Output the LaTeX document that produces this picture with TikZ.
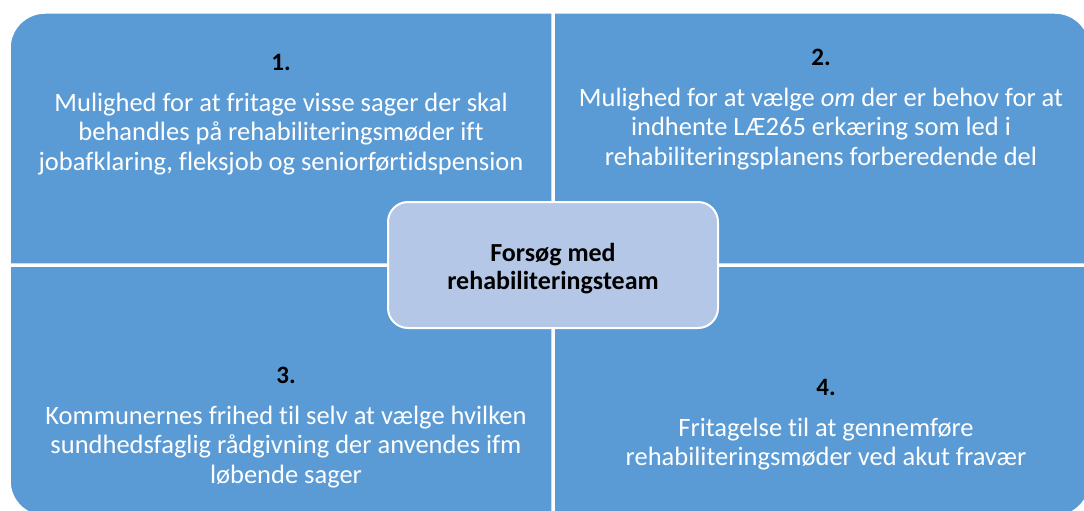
\documentclass[tikz,border=0pt]{standalone}
\usepackage{fontspec}
\setmainfont{Carlito}[Ligatures=NoCommon]
\usepackage{tikz}
\usetikzlibrary{positioning}
\definecolor{quadblue}{RGB}{91,155,213}
\definecolor{hubblue}{RGB}{180,199,231}

\begin{document}
\begin{tikzpicture}[x=1pt,y=1pt,node distance=22pt,
    quad/.style={fill=quadblue,draw=white,line width=1.5pt},
    num/.style={font=\fontsize{25}{29}\selectfont\bfseries,text=black,inner sep=0pt},
    txt/.style={font=\fontsize{26.5}{29.6}\selectfont,text=white,align=center,inner sep=0pt},
    hub/.style={fill=hubblue,draw=white,line width=2pt,rounded corners=20pt,minimum width=330pt,minimum height=126pt,
                align=center,text=black,font=\fontsize{26}{28}\selectfont\bfseries}]
%
   \useasboundingbox (0,0) rectangle (1084,-511);
   \clip (0,0) rectangle (1084,-511);
   % the four quadrants
   \path[quad] (552,-264) -- (10,-264) -- (10,-48) arc[start angle=180,end angle=90,radius=35] -- (552,-13) -- cycle;
   \path[quad] (554,-264) -- (554,-13) -- (1055,-13) arc[start angle=90,end angle=0,radius=35] -- (1090,-264) -- cycle;
   \path[quad] (552,-266) -- (552,-516) -- (45,-516) arc[start angle=270,end angle=180,radius=35] -- (10,-266) -- cycle;
   \path[quad] (554,-266) -- (1090,-266) -- (1090,-481) arc[start angle=0,end angle=-90,radius=35] -- (554,-516) -- cycle;
   % numbers and texts
   \node[num]  (n1) at (281,-62)  {1.};
   \node[txt]  (t1) [below=of n1] {Mulighed for at fritage visse sager der skal\\behandles på rehabiliteringsmøder ift\\jobafklaring, fleksjob og seniorførtidspension};
   \node[num]  (n2) at (821,-57)  {2.};
   \node[txt]  (t2) [below=of n2] {Mulighed for at vælge \textit{om} der er behov for at\\indhente LÆ265 erkæring som led i\\rehabiliteringsplanens forberedende del};
   \node[num]  (n3) at (286,-375) {3.};
   \node[txt]  (t3) [below=of n3] {Kommunernes frihed til selv at vælge hvilken\\sundhedsfaglig rådgivning der anvendes ifm\\løbende sager};
   \node[num]  (n4) at (826,-387) {4.};
   \node[txt]  (t4) [below=of n4] {Fritagelse til at gennemføre\\rehabiliteringsmøder ved akut fravær};
   % centre
   \node[hub]  (H)  at (553,-265) {\rule{0pt}{25pt}Forsøg med\\rehabiliteringsteam};
\end{tikzpicture}
\end{document}
